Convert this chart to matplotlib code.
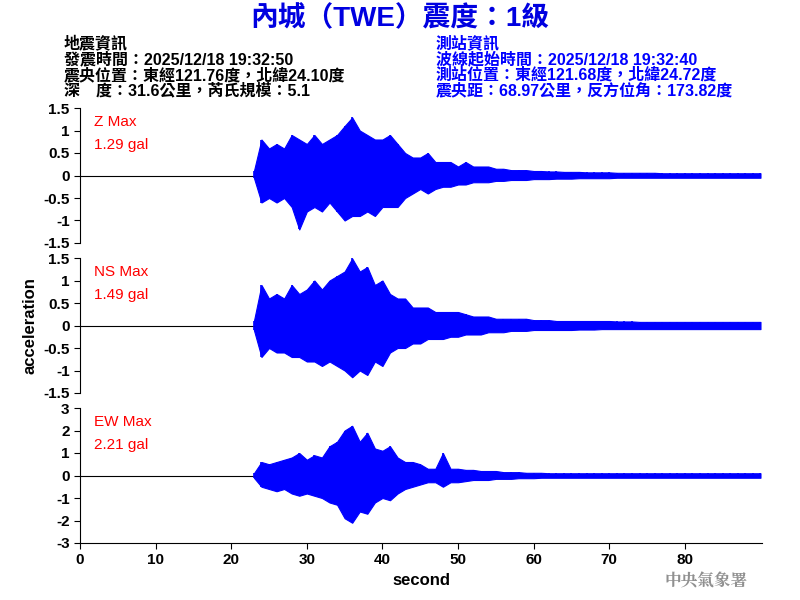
import numpy as np
import matplotlib
matplotlib.use("Agg")
import matplotlib.pyplot as plt

plt.rcParams["font.family"] = ["Liberation Sans", "Noto Sans CJK TC", "DejaVu Sans"]
plt.rcParams["font.weight"] = "bold"

# 1-second envelope of each trace (gal), from t=23 s to t=90 s
T_START = 23
Z_UP = [0.1, 0.8, 0.6, 0.7, 0.6, 0.9, 0.8, 0.7, 0.9, 0.7, 0.8, 0.9, 1.1, 1.29, 1.0, 0.9, 0.8, 0.8, 0.9,
        0.7, 0.5, 0.4, 0.4, 0.5, 0.3, 0.3, 0.3, 0.2, 0.3, 0.2, 0.2, 0.2, 0.15, 0.15, 0.12, 0.12, 0.12,
        0.1, 0.1, 0.09, 0.09, 0.08, 0.08, 0.08, 0.07, 0.07, 0.07, 0.07, 0.06, 0.06, 0.06, 0.06, 0.06,
        0.06, 0.05, 0.05, 0.05, 0.05, 0.05, 0.05, 0.05, 0.05, 0.05, 0.05, 0.05, 0.05, 0.05, 0.05]
Z_LO = [-0.05, -0.6, -0.5, -0.6, -0.5, -0.7, -1.2, -0.8, -0.7, -0.8, -0.6, -0.8, -1.0, -0.9, -0.9, -0.8,
        -0.9, -0.7, -0.7, -0.7, -0.5, -0.4, -0.3, -0.4, -0.3, -0.25, -0.25, -0.2, -0.2, -0.15, -0.15, -0.15,
        -0.12, -0.12, -0.1, -0.1, -0.1, -0.08, -0.08, -0.08, -0.07, -0.07, -0.07, -0.06, -0.06, -0.06,
        -0.06, -0.06, -0.05, -0.05, -0.05, -0.05, -0.05, -0.05, -0.05, -0.05, -0.05, -0.05, -0.05, -0.05,
        -0.05, -0.05, -0.05, -0.05, -0.05, -0.05, -0.05, -0.05]
NS_UP = [0.1, 0.9, 0.6, 0.7, 0.6, 0.9, 0.7, 0.8, 1.0, 0.8, 1.0, 1.1, 1.2, 1.49, 1.2, 1.3, 0.9, 1.0, 0.7,
         0.6, 0.6, 0.4, 0.4, 0.4, 0.3, 0.3, 0.3, 0.3, 0.25, 0.2, 0.2, 0.2, 0.15, 0.15, 0.15, 0.15, 0.15,
         0.12, 0.12, 0.12, 0.1, 0.1, 0.1, 0.1, 0.1, 0.1, 0.1, 0.1, 0.09, 0.09, 0.09, 0.08, 0.08, 0.08,
         0.08, 0.08, 0.08, 0.08, 0.08, 0.08, 0.08, 0.08, 0.08, 0.08, 0.08, 0.08, 0.08, 0.08]
NS_LO = [-0.1, -0.7, -0.5, -0.6, -0.6, -0.7, -0.7, -0.8, -0.8, -0.9, -0.8, -0.9, -1.0, -1.15, -1.0, -1.1,
         -0.8, -0.9, -0.6, -0.5, -0.5, -0.4, -0.4, -0.3, -0.3, -0.3, -0.25, -0.25, -0.2, -0.2, -0.2, -0.15,
         -0.15, -0.15, -0.12, -0.12, -0.12, -0.1, -0.1, -0.1, -0.1, -0.1, -0.1, -0.09, -0.09, -0.09, -0.08,
         -0.08, -0.08, -0.08, -0.08, -0.08, -0.08, -0.08, -0.08, -0.08, -0.08, -0.08, -0.08, -0.08, -0.08,
         -0.08, -0.08, -0.08, -0.08, -0.08, -0.08, -0.08]
EW_UP = [0.1, 0.6, 0.5, 0.6, 0.7, 0.8, 1.0, 0.7, 0.9, 0.8, 1.3, 1.5, 2.0, 2.21, 1.5, 1.9, 1.2, 1.1, 1.3,
         0.8, 0.6, 0.6, 0.5, 0.3, 0.3, 1.0, 0.3, 0.3, 0.25, 0.25, 0.2, 0.2, 0.2, 0.15, 0.15, 0.15, 0.12,
         0.12, 0.12, 0.1, 0.1, 0.1, 0.1, 0.1, 0.1, 0.1, 0.1, 0.1, 0.1, 0.1, 0.1, 0.1, 0.1, 0.1, 0.1, 0.1,
         0.1, 0.1, 0.1, 0.1, 0.1, 0.1, 0.1, 0.1, 0.1, 0.1, 0.1, 0.1]
EW_LO = [-0.1, -0.5, -0.6, -0.7, -0.6, -0.8, -0.9, -0.8, -0.9, -1.0, -1.2, -1.3, -1.9, -2.1, -1.6, -1.7,
         -1.2, -1.0, -1.1, -0.8, -0.6, -0.5, -0.4, -0.3, -0.3, -0.5, -0.3, -0.3, -0.25, -0.2, -0.2, -0.2,
         -0.15, -0.15, -0.15, -0.12, -0.12, -0.12, -0.1, -0.1, -0.1, -0.1, -0.1, -0.1, -0.1, -0.1, -0.1,
         -0.1, -0.1, -0.1, -0.1, -0.1, -0.1, -0.1, -0.1, -0.1, -0.1, -0.1, -0.1, -0.1, -0.1, -0.1, -0.1,
         -0.1, -0.1, -0.1, -0.1, -0.1]

CHANNELS = [
    ("Z Max", "1.29 gal", Z_UP, Z_LO, 1.5, [1.5, 1, 0.5, 0, -0.5, -1, -1.5]),
    ("NS Max", "1.49 gal", NS_UP, NS_LO, 1.5, [1.5, 1, 0.5, 0, -0.5, -1, -1.5]),
    ("EW Max", "2.21 gal", EW_UP, EW_LO, 3, [3, 2, 1, 0, -1, -2, -3]),
]

fig = plt.figure(figsize=(8, 6), dpi=100)
rects = [(0.82, 0.595), (0.57, 0.345), (0.32, 0.095)]
axes = []
for (label, peak, up, lo, lim, ticks), (top, bot) in zip(CHANNELS, rects):
    ax = fig.add_axes([0.1, bot, 0.8525, top - bot])
    t = np.arange(T_START, T_START + len(up))
    ax.plot([0, T_START], [0, 0], color="black", lw=0.8)
    ax.fill_between(t, lo, up, color="blue", lw=0.8)
    ax.vlines(t, lo, up, color="blue", lw=1.2)
    ax.set_xlim(0, 90.2)
    ax.set_ylim(-lim, lim)
    ax.set_yticks(ticks)
    ax.set_yticklabels([f"{v:g}" for v in ticks])
    for s in ["top", "right"]:
        ax.spines[s].set_visible(False)
    ax.tick_params(labelsize=11, length=4)
    ax.text(0.02, 0.95, label, transform=ax.transAxes, color="red", fontsize=11, va="top",
            fontweight="normal")
    ax.text(0.02, 0.78, peak, transform=ax.transAxes, color="red", fontsize=11, va="top",
            fontweight="normal")
    axes.append(ax)

for ax in axes[:2]:
    ax.spines["bottom"].set_visible(False)
    ax.set_xticks([])
axes[2].set_xticks(range(0, 90, 10))
axes[2].set_xlabel("second", fontsize=12, fontweight="bold")
axes[1].set_ylabel("acceleration", fontsize=12, fontweight="bold")

fig.text(0.5, 0.968, "內城（TWE）震度：1級", color="#0000e0", fontsize=20, ha="center", va="center")
left = ["地震資訊", "發震時間：2025/12/18 19:32:50", "震央位置：東經121.76度，北緯24.10度",
        "深　度：31.6公里，芮氏規模：5.1"]
right = ["測站資訊", "波線起始時間：2025/12/18 19:32:40", "測站位置：東經121.68度，北緯24.72度",
         "震央距：68.97公里，反方位角：173.82度"]
for i, (a, b) in enumerate(zip(left, right)):
    y = 0.928 - i * 0.0265
    fig.text(0.08, y, a, fontsize=11.5, color="black", va="center")
    fig.text(0.545, y, b, fontsize=11.5, color="blue", va="center")
fig.text(0.935, 0.032, "中央氣象署", fontsize=12, color="#909090", ha="right", va="center",
         family=["Noto Serif CJK TC", "Noto Sans CJK TC"])

fig.savefig("out.png", dpi=100)
